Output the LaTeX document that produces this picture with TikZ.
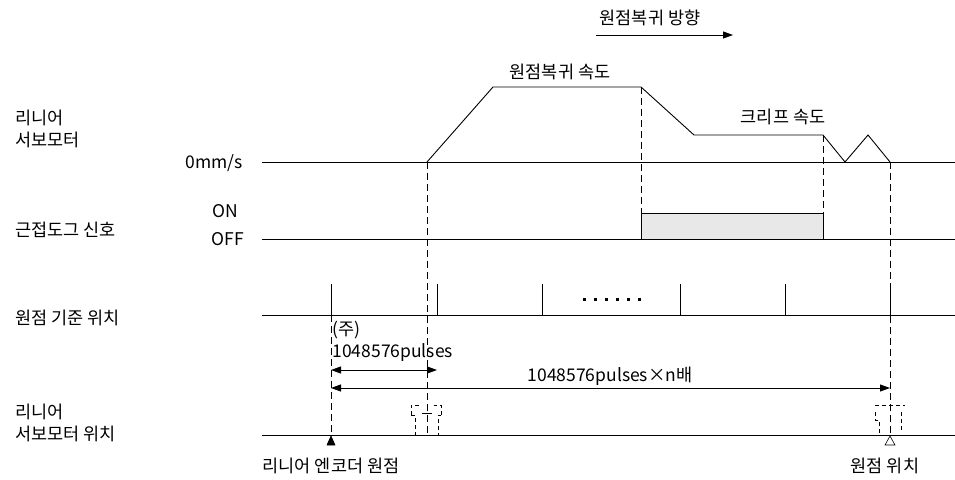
\documentclass[tikz,border=0pt]{standalone}
\usepackage{fontspec}
\setmainfont{Noto Sans CJK KR}
\usetikzlibrary{arrows.meta}
\begin{document}
\begin{tikzpicture}[x=1pt,y=-1pt,line width=0.9pt,every node/.style={font=\fontsize{17.5}{22}\selectfont,inner sep=1pt},
  dsh/.style={dash pattern=on 7pt off 4pt,line width=0.8pt},
  fine/.style={dash pattern=on 4pt off 3pt,line width=0.8pt},
  tip/.style={-{Triangle[length=10pt,width=7pt]}}]
  \useasboundingbox (0,0) rectangle (955,479);
  % row labels
  \node[anchor=west,align=left] (motor) at (14,129) {리니어\\서보모터};
  \node[anchor=west] (dog) at (14,230) {근접도그 신호};
  \node[anchor=west] (ref) at (14,318) {원점 기준 위치};
  \node[anchor=west,align=left] (pos) at (14,423) {리니어\\서보모터 위치};
  \node[anchor=east] (zero) at (244,163) {0mm/s};
  \node (on) at (225,211) {ON};
  \node (off) at (228,239) {OFF};
  % base lines
  \draw (262,162) -- (955,162);
  \draw (262,239) -- (955,239);
  \draw (262,315) -- (955,315);
  \draw (262,435) -- (955,435);
  % speed profile
  \draw (427,162) -- (493,87) -- (641,87) -- (694,135) -- (823,135) -- (845,162) -- (868,135) -- (890,162);
  \node (hspeed) at (560,72) {원점복귀 속도};
  \node (creep) at (783,117) {크리프 속도};
  % dog signal
  \draw[fill=black!9] (641,239) rectangle (823,213);
  % reference ticks
  \foreach \px in {331,437,542,680,785,890}
    \draw (\px,315) -- (\px,284);
  \foreach \i in {0,...,5}
    \fill (583+11*\i,297.5) rectangle ++(3,3);
  % dashed guides
  \draw[dsh] (331,315) -- (331,435);
  \draw[dsh] (427,162) -- (427,435);
  \draw[dsh] (641,87) -- (641,239);
  \draw[dsh] (823,135) -- (823,239);
  \draw[dsh] (890,162) -- (890,435);
  % direction
  \node (dir) at (650,18) {원점복귀 방향};
  \coordinate (d1) at (596,35);
  \coordinate (d2) at (733,35);
  \draw[tip] (d1) -- (d2);
  % dimensions
  \node[anchor=west,align=left] (note) at (331,341) {(주)\\1048576pulses};
  \coordinate (a1) at (331,370);
  \coordinate (a2) at (437,370);
  \draw[{Triangle[length=10pt,width=7pt]}-{Triangle[length=10pt,width=7pt]}] (a1) -- (a2);
  \coordinate (b1) at (331,388);
  \coordinate (b2) at (890,388);
  \draw[{Triangle[length=10pt,width=7pt]}-{Triangle[length=10pt,width=7pt]}] (b1) -- (b2);
  \node (npulse) at (610,376) {1048576pulses×n배};
  % encoder brackets
  \draw[fine] (411,415) -- (411,405) -- (420,405);
  \draw[fine] (411,415) -- (415,415) -- (415,435);
  \draw[fine] (441,415) -- (441,405) -- (434,405);
  \draw[fine] (441,415) -- (438,415) -- (438,435);
  \draw[line width=0.8pt] (422,413) -- (432,413);
  \draw[fine] (875,405) -- (905,405);
  \draw[fine] (875,412) -- (875,420) -- (879,420) -- (879,435);
  \draw[fine] (901,412) -- (901,430);
  % origin marks
  \draw[fill=black,line width=0.6pt] (331,436) -- (327,445) -- (335,445) -- cycle;
  \draw[fill=white,line width=0.6pt] (890,436) -- (885,445) -- (895,445) -- cycle;
  \node (enc) at (331,466) {리니어 엔코더 원점};
  \node (home) at (885,466) {원점 위치};
\end{tikzpicture}
\end{document}
